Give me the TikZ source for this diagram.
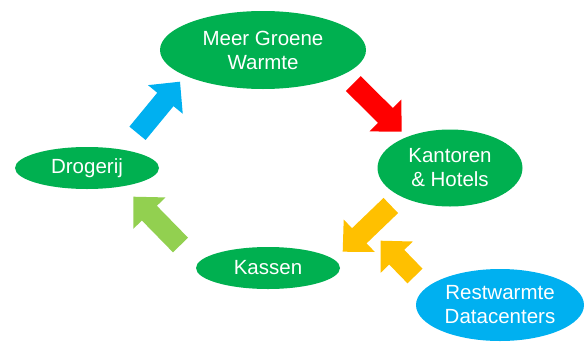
\documentclass[tikz,border=0pt]{standalone}
\usepackage{fontspec}
\setmainfont{Liberation Sans}
\usetikzlibrary{calc,shapes.geometric}
\definecolor{leafgreen}{HTML}{00B050}
\definecolor{skyblue}{HTML}{00B0F0}
\definecolor{signalred}{HTML}{FF0000}
\definecolor{amber}{HTML}{FFC000}
\definecolor{lime}{HTML}{92D050}
\tikzset{
  blob/.style={ellipse, fill=leafgreen, draw=none, inner sep=0pt, text=white,
    align=center, font=\fontsize{20.5}{24}\selectfont},
}
% block arrow from tail coordinate #1 to tip coordinate #2 in colour #3
\newcommand\blockarrow[3]{%
  \coordinate (neck) at ($(#2)!23pt!(#1)$);
  \fill[#3] ($(#1)!10.5pt!90:(#2)$) -- ($(neck)!10.5pt!-90:(#1)$)
    -- ($(neck)!22.5pt!-90:(#1)$) -- (#2) -- ($(neck)!22.5pt!90:(#1)$)
    -- ($(neck)!10.5pt!90:(#1)$) -- ($(#1)!10.5pt!-90:(#2)$) -- cycle;}
\begin{document}
\begin{tikzpicture}[x=1pt,y=-1pt]
\useasboundingbox (0,0) rectangle (585,343);
% cycle members
\node[blob, minimum width=206pt, minimum height=78pt] (mgw) at (263,50) {Meer Groene\\Warmte};
\node[blob, minimum width=145pt, minimum height=77pt] (kh) at (450,168) {Kantoren\\\& Hotels};
\node[blob, minimum width=144pt, minimum height=42pt] (kas) at (268,268) {Kassen};
\node[blob, minimum width=144pt, minimum height=42pt] (dro) at (87,168) {Drogerij};
\node[blob, fill=skyblue, minimum width=168pt, minimum height=72pt] (rw) at (500,305) {Restwarmte\\Datacenters};
% arrow end points
\coordinate (redT) at (353.3,83.5);   \coordinate (redH) at (401.7,131.7);
\coordinate (ambT) at (390.8,205.5);  \coordinate (ambH) at (342.7,251.7);
\coordinate (rwT) at (415,276);       \coordinate (rwH) at (380.7,240.7);
\coordinate (limT) at (180.5,245);    \coordinate (limH) at (133.3,196.7);
\coordinate (bluT) at (137.5,133.3);  \coordinate (bluH) at (180,81.7);
% flows
\blockarrow{redT}{redH}{signalred}
\blockarrow{ambT}{ambH}{amber}
\blockarrow{rwT}{rwH}{amber}
\blockarrow{limT}{limH}{lime}
\blockarrow{bluT}{bluH}{skyblue}
\end{tikzpicture}
\end{document}
